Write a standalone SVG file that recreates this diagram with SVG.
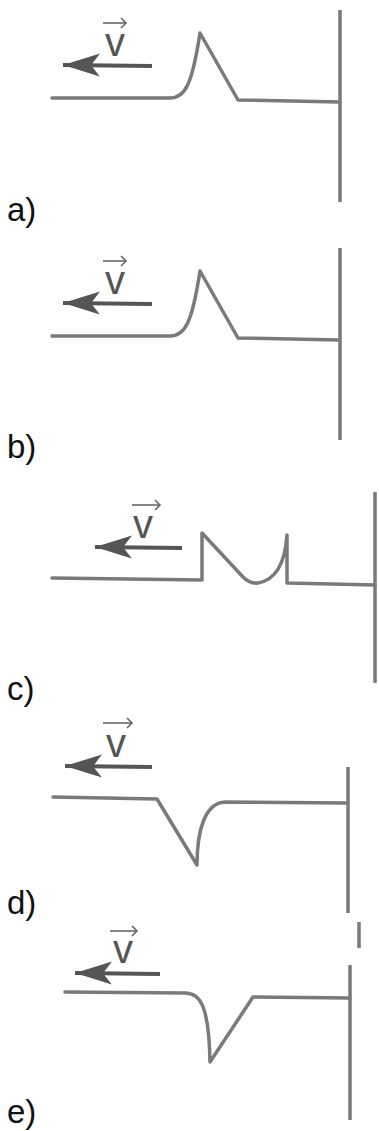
<svg xmlns="http://www.w3.org/2000/svg" width="379" height="1131" viewBox="0 0 379 1131">
<style>
.str{fill:none;stroke:#7a7a7a;stroke-width:3.5;stroke-linejoin:round;stroke-linecap:round}
.wall{fill:none;stroke:#7a7a7a;stroke-width:3.5}
.vel{fill:none;stroke:#555;stroke-width:4}
.vec{fill:none;stroke:#666;stroke-width:1.6}
.vl{font-family:"Liberation Sans",Arial,sans-serif;font-size:40px;fill:#555}
.lab{font-family:"Liberation Sans",Arial,sans-serif;font-size:33px;fill:#111}
</style>
<defs>
<marker id="head" markerUnits="userSpaceOnUse" viewBox="0 -13 40 26" refX="37" refY="0" markerWidth="40" markerHeight="26" orient="auto">
<path d="M0,-11 L37,0 L0,12 L9,0 Z" fill="#555"/>
</marker>
<marker id="vhead" markerUnits="userSpaceOnUse" viewBox="0 -6 8 12" refX="6" refY="0" markerWidth="8" markerHeight="12" orient="auto">
<path d="M1,-5 L6,0 L1,5" fill="none" stroke="#666" stroke-width="1.6"/>
</marker>
</defs>
<rect width="379" height="1131" fill="#fff"/>

<g id="panel-a">
<line class="vel" x1="152" y1="66" x2="63" y2="65" marker-end="url(#head)"/>
<text class="vl" x="105" y="56">v</text>
<line class="vec" x1="103" y1="23" x2="126" y2="23" marker-end="url(#vhead)"/>
<path class="str" d="M52,98 L170,98 C185,98 192,85 200,33 L238,100 L340,102"/>
<line class="wall" x1="340" y1="10" x2="340" y2="202"/>
<text class="lab" x="7" y="221">a)</text>
</g>

<g id="panel-b">
<line class="vel" x1="152" y1="304" x2="63" y2="303" marker-end="url(#head)"/>
<text class="vl" x="105" y="294">v</text>
<line class="vec" x1="103" y1="261" x2="126" y2="261" marker-end="url(#vhead)"/>
<path class="str" d="M52,336 L170,336 C185,336 192,323 200,271 L238,338 L340,340"/>
<line class="wall" x1="340" y1="248" x2="340" y2="440"/>
<text class="lab" x="7" y="458">b)</text>
</g>

<g id="panel-c">
<line class="vel" x1="182" y1="548" x2="95" y2="547" marker-end="url(#head)"/>
<text class="vl" x="133" y="538">v</text>
<line class="vec" x1="132" y1="505" x2="160" y2="505" marker-end="url(#vhead)"/>
<path class="str" d="M52,578 L202,580 L202,533 L243,577 Q250,584 258,583 C275,580 285,565 287,535 L287,583 L375,585"/>
<line class="wall" x1="375" y1="492" x2="375" y2="683"/>
<text class="lab" x="7" y="700">c)</text>
</g>

<g id="panel-d">
<line class="vel" x1="152" y1="767" x2="65" y2="766" marker-end="url(#head)"/>
<text class="vl" x="106" y="757">v</text>
<line class="vec" x1="103" y1="723" x2="132" y2="723" marker-end="url(#vhead)"/>
<path class="str" d="M53,797 L157,799 L197,865 C197,830 205,803 225,802 L348,803"/>
<line class="wall" x1="348" y1="767" x2="348" y2="913"/>
<text class="lab" x="7" y="914">d)</text>
</g>

<g id="panel-e">
<line class="vel" x1="160" y1="974" x2="75" y2="973" marker-end="url(#head)"/>
<text class="vl" x="113" y="963">v</text>
<line class="vec" x1="110" y1="931" x2="137" y2="931" marker-end="url(#vhead)"/>
<path class="str" d="M65,992 L185,993 C200,993 209,1005 210,1062 L253,997 L350,998"/>
<line class="wall" x1="350" y1="965" x2="350" y2="1120"/>
<line class="wall" x1="359" y1="922" x2="359" y2="948"/>
<text class="lab" x="7" y="1123">e)</text>
</g>
</svg>
